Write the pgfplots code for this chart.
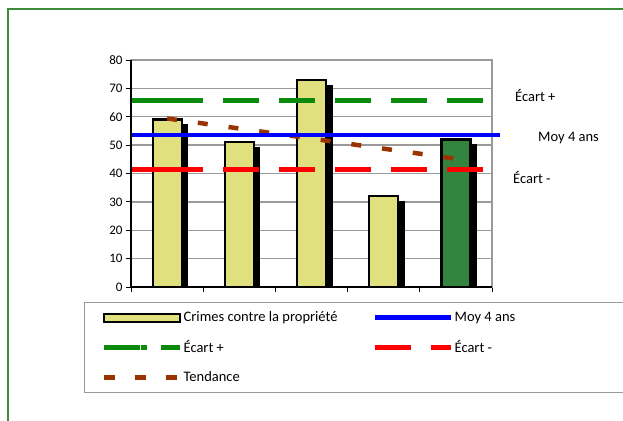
\documentclass[border=0pt]{standalone}
\usepackage{pgfplots}
\pgfplotsset{compat=1.18}
\usepackage{fontspec}
\setmainfont{Carlito}
\usetikzlibrary{shadows}
\definecolor{barYellow}{HTML}{E1E07E}
\definecolor{barGreen}{HTML}{33843E}
\definecolor{lineGreen}{HTML}{0A8A0A}
\definecolor{trendBrown}{HTML}{993300}
\definecolor{frameGreen}{HTML}{3C8C3C}
\definecolor{gridGray}{HTML}{9A9A9A}

% cellule de legende : 99bp x 30bp, trait de 76bp
\newcommand{\legcell}{\pgfpathrectangle{\pgfpoint{-19bp}{-15bp}}{\pgfpoint{99bp}{30bp}}\pgfusepath{use as bounding box}}

\begin{document}
\begin{tikzpicture}
\path[use as bounding box] (0,0) rectangle (623bp,421bp);
\clip (0,0) rectangle (623bp,421bp);
\draw[frameGreen, line width=2bp] (8bp,-2bp) -- (8bp,412bp) -- (630bp,412bp);

\begin{axis}[
  at={(131bp,134bp)}, anchor=south west,
  scale only axis, width=361bp, height=227bp,
  xmin=0.5, xmax=5.5, ymin=0, ymax=80,
  xtick={0.5,1.5,...,5.5}, xticklabels={},
  ytick={0,10,...,80},
  xtick pos=bottom, ytick pos=left,
  tick align=outside, major tick length=5bp,
  tick style={black, line width=1bp},
  ymajorgrids, grid style={gridGray, line width=1.3bp},
  axis line style={gridGray, line width=1.3bp},
  ticklabel style={font=\fontsize{13bp}{15bp}\selectfont},
  /pgf/number format/assume math mode=true,
  legend columns=2,
  legend style={
    at={(-0.1302,-0.0661)}, anchor=north west,
    draw=gridGray, line width=1.3bp,
    inner sep=0pt, row sep=0pt, column sep=0pt,
    nodes={inner sep=0pt, font=\fontsize{14.5bp}{16bp}\selectfont},
  },
  legend cell align=left,
]
% Crimes contre la propriete
\addplot[ybar, bar width=29bp, bar shift=0pt, fill=barYellow, draw=black, line width=2.2bp,
  drop shadow={shadow xshift=5.5bp, shadow yshift=-6bp, opacity=1, fill=black},
  legend image code/.code={\legcell
    \pgfsetlinewidth{2bp}\pgfsetstrokecolor{black}\pgfsetfillcolor{barYellow}
    \pgfpathrectangle{\pgfpoint{0bp}{-4bp}}{\pgfpoint{76bp}{8bp}}\pgfusepath{fill,stroke}}]
  coordinates {(1,59) (2,51) (3,73) (4,32)};
\addlegendentry{\makebox[172bp][l]{Crimes contre la propriété}}
% derniere annee en vert
\addplot[ybar, bar width=29bp, bar shift=0pt, fill=barGreen, draw=black, line width=2.2bp,
  drop shadow={shadow xshift=5.5bp, shadow yshift=-6bp, opacity=1, fill=black}, forget plot]
  coordinates {(5,52)};

\addlegendimage{blue, line width=4.5bp,
  legend image code/.code={\legcell
    \draw (0bp,0bp) -- (76bp,0bp);}}
\addlegendentry{\makebox[200bp][l]{Moy 4 ans}}

% Ecart +
\addplot[lineGreen, line width=5bp,
  dash pattern=on 72bp off 20bp on 36bp off 20bp on 36bp off 20bp on 36bp off 20bp on 36bp off 20bp on 36bp off 20bp,
  legend image code/.code={\legcell
    \draw[dash pattern=on 36bp off 1.5bp on 6bp off 13.5bp on 19bp off 20bp] (0bp,0bp) -- (76bp,0bp);}]
  coordinates {(0.5,65.6) (5.39,65.6)};
\addlegendentry{Écart +}

% Ecart -
\addplot[red, line width=5bp,
  dash pattern=on 72bp off 20bp on 36bp off 20bp on 36bp off 20bp on 36bp off 20bp on 36bp off 20bp on 36bp off 20bp,
  legend image code/.code={\legcell
    \draw[dash pattern=on 36bp off 20bp on 20bp off 20bp] (0bp,0bp) -- (76bp,0bp);}]
  coordinates {(0.5,41.4) (5.39,41.4)};
\addlegendentry{\makebox[200bp][l]{Écart -}}

% Tendance
\addplot[trendBrown, line width=4.5bp, dash pattern=on 10bp off 21bp,
  legend image code/.code={\legcell
    \draw[dash pattern=on 11bp off 20bp] (0bp,0bp) -- (76bp,0bp);}]
  coordinates {(1,59.4) (5,45.2)};
\addlegendentry{Tendance}
\end{axis}

\begin{axis}[
  at={(131bp,134bp)}, anchor=south west,
  scale only axis, width=361bp, height=227bp,
  xmin=0.5, xmax=5.5, ymin=0, ymax=80,
  hide axis, clip=false,
]
\addplot[blue, line width=4.5bp] coordinates {(0.5,53.5) (5.61,53.5)};
\draw[black, line width=1.3bp] (rel axis cs:0,1) -- (rel axis cs:0,0) -- (rel axis cs:1,0);
\end{axis}

\begin{scope}[every node/.style={anchor=west, inner sep=0pt, font=\fontsize{14.5bp}{16bp}\selectfont}]
\node at (515bp,325bp) {Écart +};
\node at (538bp,283bp) {Moy 4 ans};
\node at (513bp,243bp) {Écart -};
\end{scope}
\end{tikzpicture}
\end{document}
